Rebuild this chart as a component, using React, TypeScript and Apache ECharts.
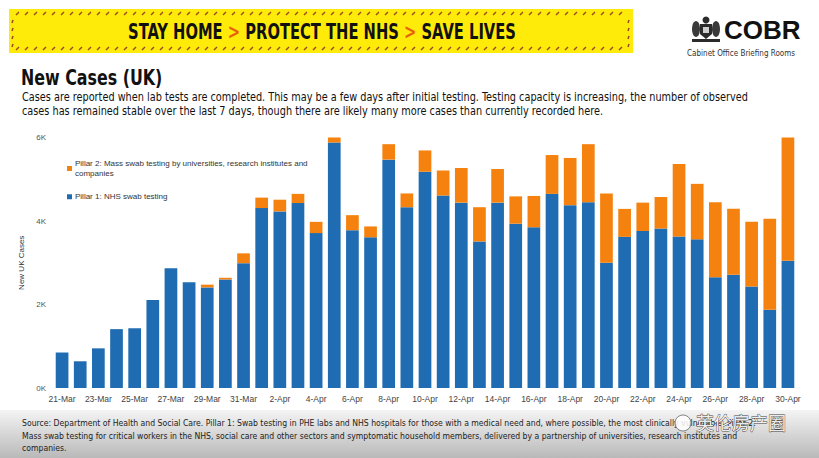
import React, { useEffect, useRef } from 'react';
import * as echarts from 'echarts';

const categories = [
  '21-Mar', '22-Mar', '23-Mar', '24-Mar', '25-Mar', '26-Mar', '27-Mar', '28-Mar', '29-Mar', '30-Mar', '31-Mar',
  '1-Apr', '2-Apr', '3-Apr', '4-Apr', '5-Apr', '6-Apr', '7-Apr', '8-Apr', '9-Apr', '10-Apr',
  '11-Apr', '12-Apr', '13-Apr', '14-Apr', '15-Apr', '16-Apr', '17-Apr', '18-Apr', '19-Apr', '20-Apr',
  '21-Apr', '22-Apr', '23-Apr', '24-Apr', '25-Apr', '26-Apr', '27-Apr', '28-Apr', '29-Apr', '30-Apr',
];

const pillar1 = [
  850, 640, 950, 1410, 1430, 2110, 2870, 2530, 2410, 2600, 2990,
  4310, 4230, 4430, 3710, 5880, 3780, 3610, 5470, 4330, 5180,
  4610, 4440, 3510, 4440, 3935, 3850, 4650, 4380, 4450, 3000,
  3620, 3760, 3820, 3630, 3560, 2650, 2710, 2430, 1875, 3050,
];

const pillar2 = [
  0, 0, 0, 0, 0, 0, 0, 0, 65, 40, 235,
  250, 280, 220, 270, 300, 360, 260, 370, 330, 510,
  600, 830, 820, 805, 655, 750, 930, 1130, 1390, 1660,
  670, 680, 755, 1735, 1330, 1800, 1585, 1550, 2180, 2970,
];

const pillar1Name = 'Pillar 1: NHS swab testing';
const pillar2Name = 'Pillar 2: Mass swab testing by universities, research institutes and\ncompanies';

const yMin = 0;
const yMax = 6000;
const yInterval = 2000;

const titleText = 'New Cases (UK)';
const subtitleLines = [
  'Cases are reported when lab tests are completed. This may be a few days after initial testing. Testing capacity is increasing, the number of observed',
  'cases has remained stable over the last 7 days, though there are likely many more cases than currently recorded here.',
];
const footerLines = [
  'Source: Department of Health and Social Care. Pillar 1: Swab testing in PHE labs and NHS hospitals for those with a medical need and, where possible, the most clinically vulnerable. Pillar 2:',
  'Mass swab testing for critical workers in the NHS, social care and other sectors and symptomatic household members, delivered by a partnership of universities, research institutes and',
  'companies.',
];

export default function App() {
  const ref = useRef<HTMLDivElement>(null);

  useEffect(() => {
    if (!ref.current) return;
    const chart = echarts.init(ref.current, null, { renderer: 'svg' });
    const narrow = '"Liberation Sans Narrow", "DejaVu Sans Condensed", "Liberation Sans", sans-serif';
    const arial = '"Liberation Sans", Arial, sans-serif';

    const hazard: any[] = [];
    for (let x = 16; x < 626; x += 9) {
      hazard.push({ type: 'line', silent: true, shape: { x1: x, y1: 15, x2: x + 3, y2: 12 }, style: { stroke: '#9a4a1e', lineWidth: 1.5 } });
      hazard.push({ type: 'line', silent: true, shape: { x1: x, y1: 50, x2: x + 3, y2: 47 }, style: { stroke: '#9a4a1e', lineWidth: 1.5 } });
    }
    for (let y = 20; y < 46; y += 8) {
      hazard.push({ type: 'line', silent: true, shape: { x1: 12, y1: y + 3, x2: 13, y2: y }, style: { stroke: '#9a4a1e', lineWidth: 1.5 } });
      hazard.push({ type: 'line', silent: true, shape: { x1: 628, y1: y + 3, x2: 629, y2: y }, style: { stroke: '#9a4a1e', lineWidth: 1.5 } });
    }

    const option: any = {
      animation: false,
      backgroundColor: '#ffffff',
      grid: { left: 53, right: 22, top: 137.5, bottom: 70, containLabel: false },
      legend: {
        orient: 'vertical',
        left: 62,
        top: 154,
        itemWidth: 5,
        itemHeight: 5,
        itemGap: 14,
        icon: 'rect',
        data: [pillar2Name, pillar1Name],
        textStyle: { fontFamily: arial, fontSize: 8, color: '#333', lineHeight: 9.5, padding: [0, 0, 0, -2] },
      },
      xAxis: {
        type: 'category',
        data: categories,
        axisLine: { show: false },
        axisTick: { show: false },
        axisLabel: { interval: 1, fontFamily: arial, fontSize: 8.5, color: '#444', margin: 6 },
      },
      yAxis: {
        type: 'value',
        min: yMin,
        max: yMax,
        interval: yInterval,
        name: 'New UK Cases',
        nameLocation: 'middle',
        nameRotate: 90,
        nameGap: 28,
        nameTextStyle: { fontFamily: arial, fontSize: 8, color: '#333' },
        axisLine: { show: false },
        axisTick: { show: false },
        splitLine: { show: false },
        axisLabel: {
          fontFamily: arial,
          fontSize: 8,
          color: '#555',
          margin: 7,
          formatter: (v: number) => `${v / 1000}K`,
        },
      },
      series: [
        {
          name: pillar1Name,
          type: 'bar',
          stack: 'cases',
          data: pillar1,
          barCategoryGap: '30%',
          itemStyle: { color: '#1f6cb2' },
        },
        {
          name: pillar2Name,
          type: 'bar',
          stack: 'cases',
          data: pillar2,
          barCategoryGap: '30%',
          itemStyle: { color: '#f5820f' },
        },
      ],
      graphic: [
        { type: 'rect', silent: true, shape: { x: 9, y: 9, width: 624, height: 44 }, style: { fill: '#ffeb0a' } },
        ...hazard,
        {
          type: 'text',
          silent: true,
          x: 322,
          y: 32,
          scaleX: 0.78,
          style: {
            text: '{t|STAY HOME }{c|>}{t| PROTECT THE NHS }{c|>}{t| SAVE LIVES}',
            align: 'center',
            verticalAlign: 'middle',
            rich: {
              t: { fontFamily: narrow, fontWeight: 'bold', fontSize: 21, fill: '#111' },
              c: { fontFamily: narrow, fontWeight: 'bold', fontSize: 21, fill: '#e8620c' },
            },
          },
        },
        // crest
        {
          type: 'group',
          silent: true,
          children: [
            { type: 'polygon', shape: { points: [[700, 24], [712, 24], [712, 34], [706, 39], [700, 34]] }, style: { fill: '#2b2b2b' } },
            { type: 'circle', shape: { cx: 706, cy: 20, r: 3.5 }, style: { fill: '#2b2b2b' } },
            { type: 'ellipse', shape: { cx: 696, cy: 29, rx: 4, ry: 8 }, style: { fill: '#3a3a3a' } },
            { type: 'ellipse', shape: { cx: 716, cy: 29, rx: 4, ry: 8 }, style: { fill: '#3a3a3a' } },
            { type: 'rect', shape: { x: 692, y: 39, width: 28, height: 3 }, style: { fill: '#2b2b2b' } },
            { type: 'rect', shape: { x: 703, y: 27, width: 6, height: 6 }, style: { fill: '#cfcfcf' } },
          ],
        },
        {
          type: 'text', silent: true, x: 724, y: 30,
          style: { text: 'COBR', fontFamily: arial, fontWeight: 'bold', fontSize: 26, fill: '#111', verticalAlign: 'middle' },
        },
        {
          type: 'text', silent: true, x: 741, y: 53,
          style: { text: 'Cabinet Office Briefing Rooms', fontFamily: narrow, fontSize: 8, fill: '#333', align: 'center', verticalAlign: 'middle' },
        },
        {
          type: 'text', silent: true, x: 21, y: 78, scaleX: 0.84,
          style: { text: titleText, fontFamily: narrow, fontWeight: 'bold', fontSize: 21, fill: '#111', verticalAlign: 'middle' },
        },
        {
          type: 'text', silent: true, x: 22, y: 97, scaleX: 0.94,
          style: { text: subtitleLines[0], fontFamily: narrow, fontSize: 11.5, fill: '#111', verticalAlign: 'middle' },
        },
        {
          type: 'text', silent: true, x: 22, y: 111, scaleX: 0.94,
          style: { text: subtitleLines[1], fontFamily: narrow, fontSize: 11.5, fill: '#111', verticalAlign: 'middle' },
        },
        {
          type: 'rect', silent: true, shape: { x: 0, y: 410, width: 819, height: 48 },
          style: {
            fill: new echarts.graphic.LinearGradient(0, 0, 0, 1, [
              { offset: 0, color: '#f4f4f4' },
              { offset: 1, color: '#b9b9b9' },
            ]),
          },
        },
        ...footerLines.map((line, i) => ({
          type: 'text', silent: true, x: 22, y: 423 + i * 12.5,
          style: { text: line, fontFamily: narrow, fontSize: 8.6, fill: '#222', verticalAlign: 'middle' },
        })),
        { type: 'circle', silent: true, shape: { cx: 683, cy: 423, r: 8 }, style: { fill: 'rgba(255,255,255,0.85)', stroke: '#666', lineWidth: 0.8 } },
        {
          type: 'text', silent: true, x: 696, y: 422,
          style: { text: '英伦房产圈', fontFamily: '"Noto Sans CJK SC", sans-serif', fontSize: 18, fill: 'rgba(255,255,255,0.9)', stroke: '#444', lineWidth: 0.8, verticalAlign: 'middle' },
        },
      ],
    };

    chart.setOption(option);
    return () => chart.dispose();
  }, []);

  return <div ref={ref} style={{ position: 'fixed', left: 0, top: 0, width: 819, height: 458 }} />;
}
